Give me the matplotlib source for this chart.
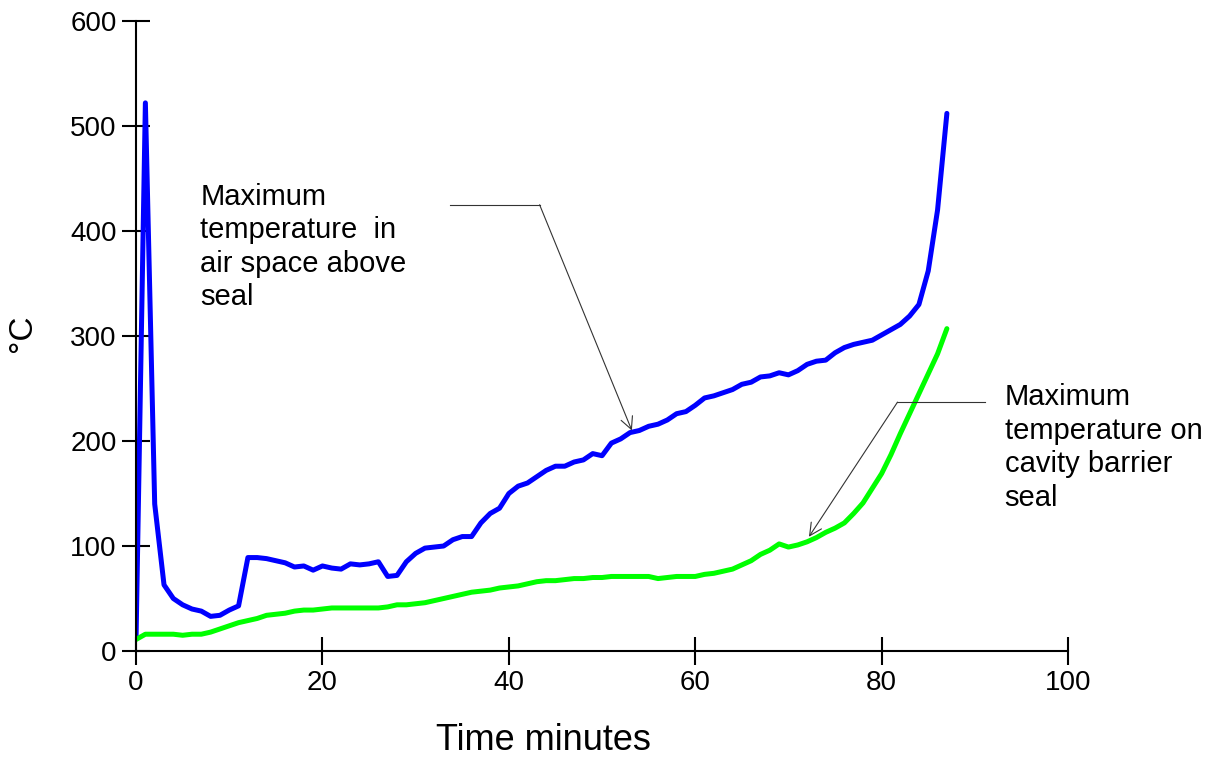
import matplotlib
matplotlib.use("Agg")
import matplotlib.pyplot as plt
import numpy as np

plt.rcParams['font.family'] = ['Liberation Sans', 'DejaVu Sans']

minutes = list(range(0, 88))
air_space = [12, 522, 140, 63, 50, 44, 40, 38, 33, 34, 39, 43, 89, 89, 88, 86, 84, 80, 81, 77,
             81, 79, 78, 83, 82, 83, 85, 71, 72, 85, 93, 98, 99, 100, 106, 109, 109, 122, 131, 136,
             150, 157, 160, 166, 172, 176, 176, 180, 182, 188, 186, 198, 202, 208, 210, 214, 216, 220, 226, 228,
             234, 241, 243, 246, 249, 254, 256, 261, 262, 265, 263, 267, 273, 276, 277, 284, 289, 292, 294, 296,
             301, 306, 311, 319, 330, 362, 420, 512]
barrier_seal = [11, 16, 16, 16, 16, 15, 16, 16, 18, 21, 24, 27, 29, 31, 34, 35, 36, 38, 39, 39,
                40, 41, 41, 41, 41, 41, 41, 42, 44, 44, 45, 46, 48, 50, 52, 54, 56, 57, 58, 60,
                61, 62, 64, 66, 67, 67, 68, 69, 69, 70, 70, 71, 71, 71, 71, 71, 69, 70, 71, 71,
                71, 73, 74, 76, 78, 82, 86, 92, 96, 102, 99, 101, 104, 108, 113, 117, 122, 131, 141, 155,
                169, 187, 207, 226, 245, 264, 283, 307]

x_ticks = [0, 20, 40, 60, 80, 100]
y_ticks = [0, 100, 200, 300, 400, 500, 600]

label_air = "Maximum\ntemperature  in\nair space above\nseal"
label_seal = "Maximum\ntemperature on\ncavity barrier\nseal"

fig = plt.figure(figsize=(12.17, 7.6), dpi=100)
ax = fig.add_axes([0.1118, 0.1434, 0.8776 - 0.1118, 0.9724 - 0.1434])

ax.plot(minutes, air_space, color='#0000FF', lw=3.6, solid_joinstyle='round', solid_capstyle='round')
ax.plot(minutes, barrier_seal, color='#00FF00', lw=3.6, solid_joinstyle='round', solid_capstyle='round')

ax.set_xlim(0, 100)
ax.set_ylim(0, 600)
ax.set_xticks(x_ticks)
ax.set_yticks(y_ticks)
for s in ['top', 'right']:
    ax.spines[s].set_visible(False)
for s in ['left', 'bottom']:
    ax.spines[s].set_linewidth(1.5)
ax.tick_params(direction='inout', length=20, width=1.5, labelsize=20, pad=4)

ax.set_xlabel("Time minutes", fontsize=26)
ax.xaxis.set_label_coords(0.437, -0.115)
ax.set_ylabel("°C", fontsize=24)
ax.yaxis.set_label_coords(-0.105, 0.505)

# annotations
ax.text(6.9, 446, label_air, fontsize=21, va='top', ha='left', linespacing=1.25)
ax.plot([33.7, 43.3], [425, 425], color='#333333', lw=0.8)
ax.annotate("", xy=(53.2, 210), xytext=(43.3, 425),
            arrowprops=dict(arrowstyle='->', color='#333333', lw=0.8, shrinkA=0, shrinkB=0,
                            mutation_scale=22))

ax.text(93.2, 255, label_seal, fontsize=21, va='top', ha='left', linespacing=1.25, clip_on=False)
ax.plot([81.7, 91.1], [237, 237], color='#333333', lw=0.8, clip_on=False)
ax.annotate("", xy=(72.2, 108.8), xytext=(81.7, 237),
            arrowprops=dict(arrowstyle='->', color='#333333', lw=0.8, shrinkA=0, shrinkB=0,
                            mutation_scale=22))

fig.savefig("out.png", dpi=100)
